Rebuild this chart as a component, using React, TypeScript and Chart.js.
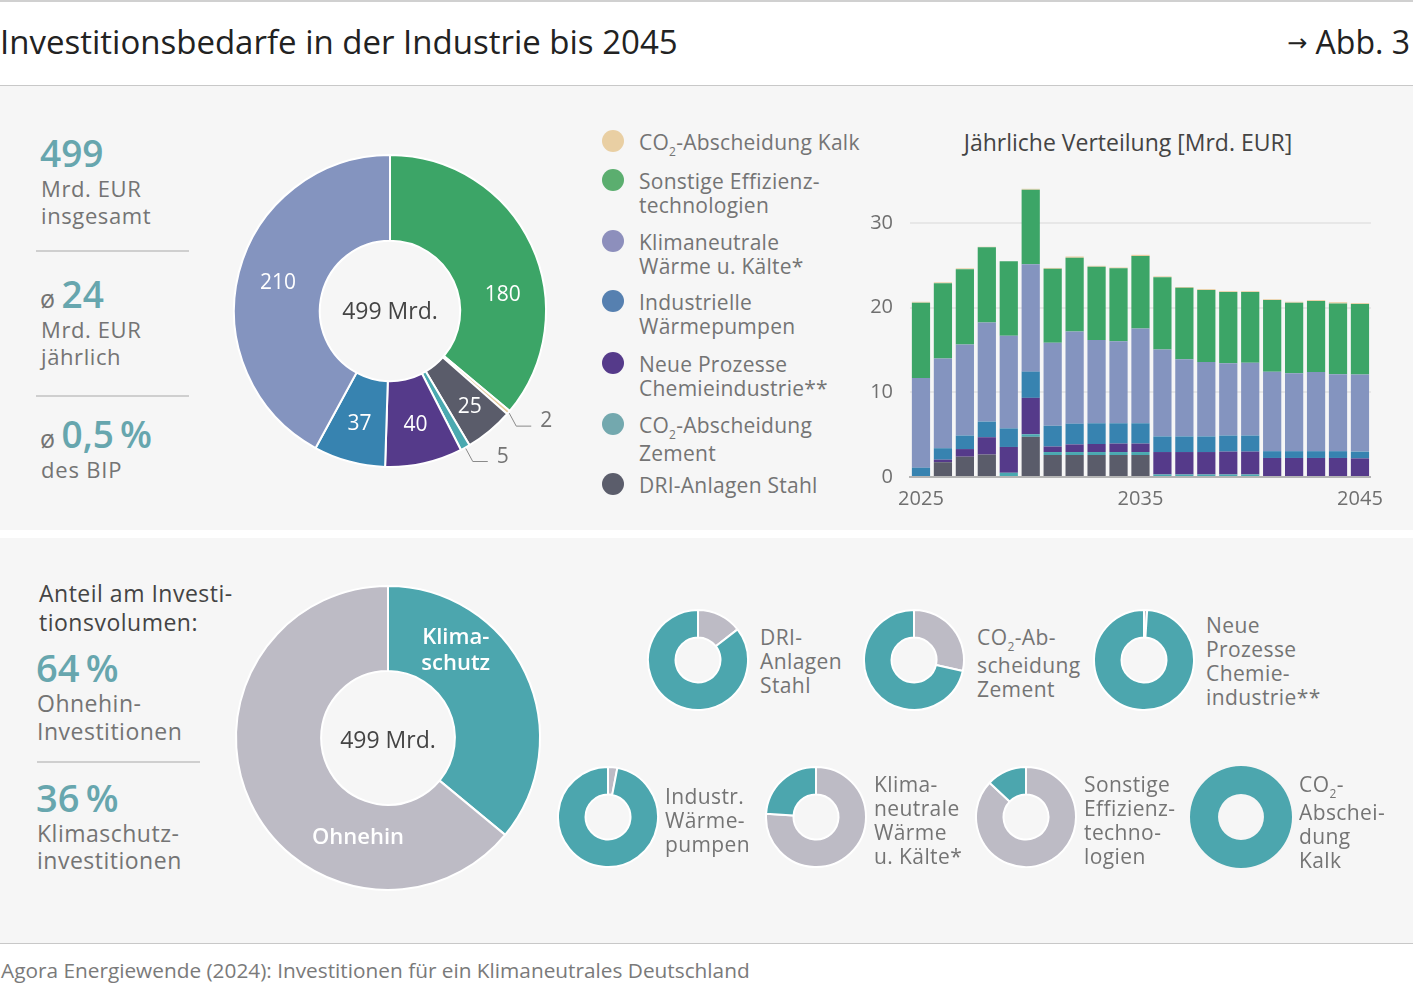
import React, { useEffect, useRef } from "react";
import { Chart, registerables } from "chart.js";
Chart.register(...registerables);

const FONT = "'Open Sans', Roboto, 'Noto Sans', Arial, sans-serif";
Chart.defaults.font.family = FONT;

// ---------- DATA ----------
// series in stacking order (bottom -> top)
const seriesNames = [
  "DRI-Anlagen Stahl",
  "CO2-Abscheidung Zement",
  "Neue Prozesse Chemieindustrie**",
  "Industrielle Wärmepumpen",
  "Klimaneutrale Wärme u. Kälte*",
  "Sonstige Effizienztechnologien",
  "CO2-Abscheidung Kalk",
];
const seriesColors = ["#5a5c6a", "#4aa9b0", "#553a8a", "#3783b0", "#8494bf", "#3ca567", "#e8cc9e"];
const legendDotColors = ["#5b5d6b", "#73a8ae", "#553a8a", "#5680b0", "#8d8fbc", "#5bae6f", "#e9cfa3"];
const totalsMrd = [25, 5, 40, 37, 210, 180, 2];
const pieOrder = [5, 6, 0, 1, 2, 3, 4];
const legendOrder = [6, 5, 4, 3, 2, 1, 0];
const legendLines = [
  ["DRI-Anlagen Stahl"],
  ["CO2-Abscheidung", "Zement"],
  ["Neue Prozesse", "Chemieindustrie**"],
  ["Industrielle", "Wärmepumpen"],
  ["Klimaneutrale", "Wärme u. Kälte*"],
  ["Sonstige Effizienz-", "technologien"],
  ["CO2-Abscheidung Kalk"],
];

const years = [
  "2025", "2026", "2027", "2028", "2029", "2030", "2031", "2032", "2033", "2034", "2035",
  "2036", "2037", "2038", "2039", "2040", "2041", "2042", "2043", "2044", "2045",
];
const yearTicks = ["2025", "2035", "2045"];
const valueTicks = [0, 10, 20, 30];

const driStahl = [0, 1.75, 2.4, 2.65, 0, 4.75, 2.6, 2.6, 2.6, 2.6, 2.6, 0, 0, 0, 0, 0, 0, 0, 0, 0, 0];
const co2Zement = [0, 0, 0, 0, 0.5, 0.3, 0.35, 0.35, 0.35, 0.35, 0.35, 0.3, 0.3, 0.3, 0.3, 0.3, 0, 0, 0, 0, 0];
const chemie = [0, 0.3, 0.9, 2.05, 3.05, 4.3, 0.65, 0.9, 0.95, 1.0, 1.0, 2.65, 2.65, 2.65, 2.7, 2.7, 2.25, 2.25, 2.25, 2.25, 2.2];
const waermepumpen = [1.1, 1.35, 1.6, 1.85, 2.2, 3.1, 2.45, 2.45, 2.45, 2.4, 2.4, 1.85, 1.85, 1.85, 1.9, 1.9, 0.8, 0.8, 0.8, 0.8, 0.8];
const klimaWaerme = [10.6, 10.6, 10.75, 11.7, 10.95, 12.7, 9.8, 10.9, 9.85, 9.7, 11.2, 10.25, 9.1, 8.8, 8.55, 8.6, 9.4, 9.2, 9.35, 9.1, 9.1];
const sonstige = [8.9, 8.9, 8.9, 8.9, 8.8, 8.8, 8.75, 8.7, 8.65, 8.6, 8.55, 8.55, 8.45, 8.5, 8.4, 8.35, 8.45, 8.35, 8.4, 8.35, 8.35];
const co2Kalk = [0.1, 0.1, 0.1, 0.05, 0, 0.1, 0.1, 0.15, 0.1, 0.1, 0.15, 0.1, 0.1, 0.1, 0.1, 0.1, 0.1, 0.1, 0.1, 0.15, 0.1];
const yearlySeries = [driStahl, co2Zement, chemie, waermepumpen, klimaWaerme, sonstige, co2Kalk];

// share of "Ohnehin" investments per technology (percent)
const ohnehinShare = [14.5, 28.5, 1, 3, 76, 87, 0];
const smallLabelLines = [
  ["DRI-", "Anlagen", "Stahl"],
  ["CO2-Ab-", "scheidung", "Zement"],
  ["Neue", "Prozesse", "Chemie-", "industrie**"],
  ["Industr.", "Wärme-", "pumpen"],
  ["Klima-", "neutrale", "Wärme", "u. Kälte*"],
  ["Sonstige", "Effizienz-", "techno-", "logien"],
  ["CO2-", "Abschei-", "dung", "Kalk"],
];

const splitLabels = ["Klimaschutz", "Ohnehin"];
const splitShares = [36, 64];

const TEAL = "#4ca6ae";
const GREY = "#bdbbc5";
const NUM = "#67a6ae";
const TXT = "#747474";
const DARK = "#444444";

// ---------- PLUGIN (config kept in closure) ----------
function makeDonutText(cfg: any) {
  return {
    id: "donutText",
    afterDatasetsDraw(chart: any) {
      const ctx = chart.ctx;
      const arcs = chart.getDatasetMeta(0).data;
      if (!arcs || !arcs.length) return;
      const cx = arcs[0].x;
      const cy = arcs[0].y;
      ctx.save();
      if (cfg.center) {
        ctx.font = cfg.center.font;
        ctx.fillStyle = cfg.center.color;
        ctx.textAlign = "center";
        ctx.textBaseline = "middle";
        ctx.fillText(cfg.center.text, cx, cy + (cfg.center.dy || 0));
      }
      (cfg.items || []).forEach((it: any) => {
        const arc = arcs[it.index];
        const p = arc.getProps(["startAngle", "endAngle", "outerRadius", "innerRadius"], true);
        const mid = (p.startAngle + p.endAngle) / 2 + ((it.shift || 0) * Math.PI) / 180;
        ctx.font = it.font;
        ctx.fillStyle = it.color;
        if (it.leader) {
          const r0 = p.outerRadius + 1;
          const x0 = cx + r0 * Math.cos(mid);
          const y0 = cy + r0 * Math.sin(mid);
          const x1 = x0 + 7;
          const y1 = y0 + 13;
          const x2 = x1 + 15;
          ctx.strokeStyle = "#8a8a8a";
          ctx.lineWidth = 1;
          ctx.beginPath();
          ctx.moveTo(x0, y0);
          ctx.lineTo(x1, y1);
          ctx.lineTo(x2, y1);
          ctx.stroke();
          ctx.textAlign = "left";
          ctx.textBaseline = "alphabetic";
          ctx.fillText(it.lines[0], x2 + 9, y1 + 1);
        } else {
          const r = p.outerRadius * it.radius;
          const x = cx + r * Math.cos(mid);
          const y = cy + r * Math.sin(mid);
          ctx.textAlign = "center";
          ctx.textBaseline = "middle";
          const n = it.lines.length;
          it.lines.forEach((ln: string, k: number) =>
            ctx.fillText(ln, x, y + (k - (n - 1) / 2) * (it.lh || 0))
          );
        }
      });
      ctx.restore();
    },
  };
}

// ---------- helpers ----------
function withSub(s: string) {
  const parts = s.split("CO2");
  const out: any[] = [];
  parts.forEach((p, i) => {
    if (i > 0)
      out.push(
        <span key={"c" + i}>
          CO<span style={{ fontSize: 12, position: "relative", top: 6 }}>2</span>
        </span>
      );
    out.push(<span key={"p" + i}>{p}</span>);
  });
  return out;
}

function Lines({ x, y, lines, size, lh, color, weight = 400, sub = false, ls = 0 }: any) {
  return (
    <div
      style={{
        position: "absolute",
        left: x,
        top: y - lh / 2,
        fontSize: size,
        lineHeight: lh + "px",
        color,
        fontWeight: weight,
        letterSpacing: ls,
        whiteSpace: "nowrap",
      }}
    >
      {lines.map((l: string, i: number) => (
        <div key={i}>{sub ? withSub(l) : l}</div>
      ))}
    </div>
  );
}

function ChartCanvas({ left, top, width, height, config }: any) {
  const ref = useRef<HTMLCanvasElement>(null);
  useEffect(() => {
    const chart = new Chart(ref.current as HTMLCanvasElement, config());
    return () => chart.destroy();
  }, []);
  return (
    <canvas
      ref={ref}
      width={width}
      height={height}
      style={{ position: "absolute", left, top, width, height }}
    />
  );
}

// ---------- charts ----------
const lblFont = `21px ${FONT}`;
const topDonutConfig = () => ({
  type: "doughnut",
  data: {
    labels: pieOrder.map((i) => seriesNames[i]),
    datasets: [
      {
        data: pieOrder.map((i) => totalsMrd[i]),
        backgroundColor: pieOrder.map((i) => seriesColors[i]),
        borderColor: "#ffffff",
        borderWidth: 2,
      },
    ],
  },
  options: {
    responsive: false,
    animation: false,
    cutout: "45%",
    layout: { padding: 23 },
    plugins: { legend: { display: false }, tooltip: { enabled: false } },
  },
  plugins: [
    makeDonutText({
      center: { text: "499 Mrd.", font: `23px ${FONT}`, color: DARK, dy: 1 },
      items: [
        { index: 0, lines: [String(totalsMrd[5])], radius: 0.73, shift: 17, font: lblFont, color: "#fff" },
        { index: 1, lines: [String(totalsMrd[6])], leader: true, font: lblFont, color: TXT },
        { index: 2, lines: [String(totalsMrd[0])], radius: 0.8, font: lblFont, color: "#fff" },
        { index: 3, lines: [String(totalsMrd[1])], leader: true, font: lblFont, color: TXT },
        { index: 4, lines: [String(totalsMrd[2])], radius: 0.75, font: lblFont, color: "#fff" },
        { index: 5, lines: [String(totalsMrd[3])], radius: 0.75, font: lblFont, color: "#fff" },
        { index: 6, lines: [String(totalsMrd[4])], radius: 0.74, font: lblFont, color: "#fff" },
      ],
    }),
  ],
});

const barConfig = () => ({
  type: "bar",
  data: {
    labels: years,
    datasets: yearlySeries.map((d, i) => ({
      label: seriesNames[i],
      data: d,
      backgroundColor: seriesColors[i],
      borderWidth: 0,
      barPercentage: 0.83,
      categoryPercentage: 1,
    })),
  },
  options: {
    responsive: false,
    animation: false,
    layout: { padding: { top: 5, right: 7, left: 0, bottom: 0 } },
    plugins: { legend: { display: false }, tooltip: { enabled: false } },
    scales: {
      x: {
        stacked: true,
        grid: { display: false, drawTicks: false },
        border: { display: true, color: "#b4b4b4", width: 2 },
        ticks: {
          autoSkip: false,
          maxRotation: 0,
          padding: 10,
          color: "#6f6f6f",
          font: { size: 20 },
          callback: (_v: any, i: number) => (yearTicks.includes(years[i]) ? years[i] : ""),
        },
        afterFit: (s: any) => {
          s.height = 40;
        },
      },
      y: {
        stacked: true,
        min: 0,
        max: 34.5,
        afterBuildTicks: (a: any) => {
          a.ticks = valueTicks.map((v) => ({ value: v }));
        },
        grid: { color: "#e7e7e7", lineWidth: 2, drawTicks: false },
        border: { display: false },
        ticks: { padding: 17, color: "#6f6f6f", font: { size: 20 } },
        afterFit: (s: any) => {
          s.width = 60;
        },
      },
    },
  },
});

const bigDonutConfig = () => ({
  type: "doughnut",
  data: {
    labels: splitLabels,
    datasets: [
      {
        data: splitShares,
        backgroundColor: [TEAL, GREY],
        borderColor: "#ffffff",
        borderWidth: 2,
      },
    ],
  },
  options: {
    responsive: false,
    animation: false,
    cutout: "44%",
    layout: { padding: 22 },
    plugins: { legend: { display: false }, tooltip: { enabled: false } },
  },
  plugins: [
    makeDonutText({
      center: { text: "499 Mrd.", font: `23px ${FONT}`, color: DARK, dy: 3 },
      items: [
        { index: 0, lines: ["Klima-", "schutz"], radius: 0.727, shift: -27, lh: 26, font: `600 22px ${FONT}`, color: "#fff" },
        { index: 1, lines: ["Ohnehin"], radius: 0.682, shift: -48, font: `600 22px ${FONT}`, color: "#fff" },
      ],
    }),
  ],
});

const smallDonutConfig = (s: number) => () => ({
  type: "doughnut",
  data: {
    labels: ["Ohnehin", "Klimaschutz"],
    datasets: [
      {
        data: [ohnehinShare[s], 100 - ohnehinShare[s]],
        backgroundColor: [GREY, TEAL],
        borderColor: "#ffffff",
        borderWidth: ohnehinShare[s] === 0 ? 0 : 2,
      },
    ],
  },
  options: {
    responsive: false,
    animation: false,
    cutout: "45%",
    layout: { padding: 0 },
    plugins: { legend: { display: false }, tooltip: { enabled: false } },
  },
});

const smallLayout = [
  { s: 0, cx: 698, cy: 660, tx: 760, ty: 637 },
  { s: 1, cx: 914, cy: 660, tx: 977, ty: 637 },
  { s: 2, cx: 1144, cy: 660, tx: 1206, ty: 625 },
  { s: 3, cx: 608, cy: 817, tx: 665, ty: 796 },
  { s: 4, cx: 816, cy: 817, tx: 874, ty: 784 },
  { s: 5, cx: 1026, cy: 817, tx: 1084, ty: 784 },
  { s: 6, cx: 1241, cy: 817, tx: 1299, ty: 784 },
];
const legendY = [142, 181, 242, 302, 364, 425, 485];

export default function App() {
  return (
    <div
      style={{
        position: "absolute",
        left: 0,
        top: 0,
        width: 1413,
        height: 1002,
        background: "#ffffff",
        fontFamily: FONT,
        overflow: "hidden",
      }}
    >
      <div style={{ position: "absolute", left: 0, top: 0, width: 1413, height: 2, background: "#d0d0d0" }} />
      <div style={{ position: "absolute", left: 0, top: 19, fontSize: 33, lineHeight: "46px", color: "#222", whiteSpace: "nowrap" }}>
        Investitionsbedarfe in der Industrie bis 2045
      </div>
      <div style={{ position: "absolute", right: 3, top: 19, fontSize: 32, lineHeight: "46px", color: "#222", whiteSpace: "nowrap" }}>
        <span style={{ fontFamily: "'DejaVu Sans', sans-serif", fontSize: 24, position: "relative", top: -3 }}>→</span> Abb. 3
      </div>
      <div style={{ position: "absolute", left: 0, top: 85, width: 1413, height: 1, background: "#c8c8c8" }} />
      <div style={{ position: "absolute", left: 0, top: 86, width: 1413, height: 444, background: "#f6f6f6" }} />
      <div style={{ position: "absolute", left: 0, top: 538, width: 1413, height: 405, background: "#f6f6f6" }} />
      <div style={{ position: "absolute", left: 0, top: 943, width: 1413, height: 1, background: "#c8c8c8" }} />
      <div style={{ position: "absolute", left: 1, top: 957, fontSize: 20.8, lineHeight: "26px", color: "#7a7a7a", whiteSpace: "nowrap" }}>
        Agora Energiewende (2024): Investitionen für ein Klimaneutrales Deutschland
      </div>

      {/* top-left stats */}
      <Lines x={40} y={153} lines={["499"]} size={37} lh={44} color={NUM} weight={600} />
      <Lines x={41} y={188} lines={["Mrd. EUR", "insgesamt"]} size={22} lh={27} color={TXT} ls={0.6} />
      <div style={{ position: "absolute", left: 36, top: 250, width: 153, height: 2, background: "#cfcfcf" }} />
      <div style={{ position: "absolute", left: 40, top: 272, lineHeight: "44px", whiteSpace: "nowrap" }}>
        <span style={{ fontSize: 25, color: TXT }}>ø </span>
        <span style={{ fontSize: 37, color: NUM, fontWeight: 600 }}>24</span>
      </div>
      <Lines x={41} y={329} lines={["Mrd. EUR", "jährlich"]} size={22} lh={27} color={TXT} ls={0.6} />
      <div style={{ position: "absolute", left: 36, top: 395, width: 153, height: 2, background: "#cfcfcf" }} />
      <div style={{ position: "absolute", left: 40, top: 412, lineHeight: "44px", whiteSpace: "nowrap" }}>
        <span style={{ fontSize: 25, color: TXT }}>ø </span>
        <span style={{ fontSize: 37, color: NUM, fontWeight: 600 }}>0,5{"\u2009"}%</span>
      </div>
      <Lines x={41} y={469} lines={["des BIP"]} size={22} lh={27} color={TXT} ls={0.8} />

      {/* top donut */}
      <ChartCanvas left={210} top={131} width={360} height={360} config={topDonutConfig} />

      {/* legend */}
      {legendOrder.map((s, k) => (
        <React.Fragment key={s}>
          <div
            style={{
              position: "absolute",
              left: 602,
              top: legendY[k] - 12,
              width: 22,
              height: 22,
              borderRadius: 11,
              background: legendDotColors[s],
            }}
          />
          <Lines x={639} y={legendY[k]} lines={legendLines[s]} size={21} lh={24.5} color={TXT} sub ls={0.25} />
        </React.Fragment>
      ))}

      {/* bar chart */}
      <div style={{ position: "absolute", left: 900, width: 456, top: 127, textAlign: "center", fontSize: 23, lineHeight: "30px", color: DARK, whiteSpace: "nowrap" }}>
        Jährliche Verteilung [Mrd. EUR]
      </div>
      <ChartCanvas left={850} top={156} width={543} height={361} config={barConfig} />

      {/* lower left stats */}
      <Lines x={39} y={593} lines={["Anteil am Investi-", "tionsvolumen:"]} size={23} lh={29} color={DARK} ls={0.5} />
      <Lines x={36} y={667} lines={["64\u2009%"]} size={38} lh={44} color={NUM} weight={600} />
      <Lines x={37} y={703} lines={["Ohnehin-", "Investitionen"]} size={23} lh={28} color={TXT} ls={0.5} />
      <div style={{ position: "absolute", left: 37, top: 761, width: 163, height: 2, background: "#cfcfcf" }} />
      <Lines x={36} y={797} lines={["36\u2009%"]} size={38} lh={44} color={NUM} weight={600} />
      <Lines x={37} y={833} lines={["Klimaschutz-", "investitionen"]} size={23} lh={27} color={TXT} ls={0.5} />

      {/* big donut */}
      <ChartCanvas left={213} top={563} width={350} height={350} config={bigDonutConfig} />

      {/* small donuts */}
      {smallLayout.map((L) => (
        <React.Fragment key={L.s}>
          <ChartCanvas left={L.cx - 51} top={L.cy - 51} width={102} height={102} config={smallDonutConfig(L.s)} />
          <Lines x={L.tx} y={L.ty} lines={smallLabelLines[L.s]} size={21} lh={24} color={TXT} sub ls={0.4} />
        </React.Fragment>
      ))}
    </div>
  );
}
